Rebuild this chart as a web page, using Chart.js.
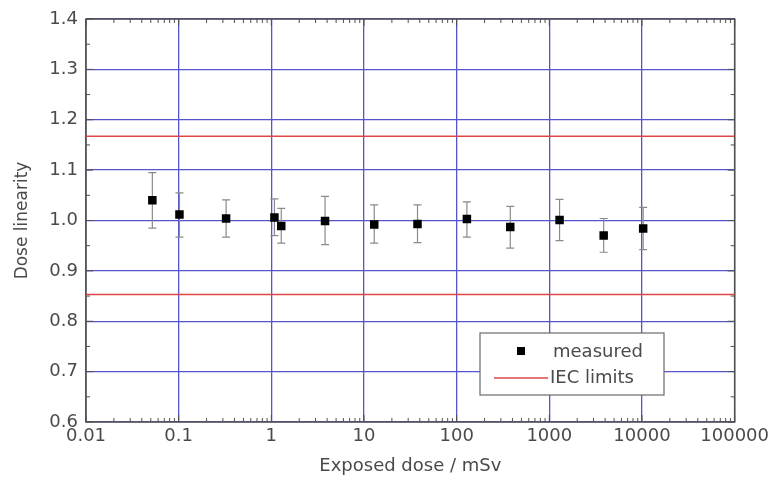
<!DOCTYPE html>
<html>
<head>
<meta charset="utf-8">
<script src="https://cdn.jsdelivr.net/npm/chart.js@4/dist/chart.umd.min.js"></script>
<style>
  html, body { margin: 0; padding: 0; background: #ffffff; }
  #wrap { width: 773px; height: 488px; }
</style>
</head>
<body>
<div id="wrap"><canvas id="c" width="773" height="488"></canvas></div>
<script>
// ---- data ----
const doseValues = [0.052, 0.102, 0.325, 1.08, 1.28, 3.8, 12.9, 37.8, 129, 379, 1290, 3860, 10300];
const linearity  = [1.040, 1.012, 1.004, 1.006, 0.989, 0.999, 0.992, 0.993, 1.003, 0.987, 1.001, 0.970, 0.984];
const errHigh    = [1.095, 1.055, 1.041, 1.043, 1.024, 1.048, 1.031, 1.031, 1.037, 1.028, 1.042, 1.004, 1.026];
const errLow     = [0.985, 0.967, 0.967, 0.970, 0.955, 0.952, 0.955, 0.956, 0.967, 0.945, 0.960, 0.937, 0.942];
const iecLimits  = [1.167, 0.853];
const xRange     = [0.01, 100000];
const xTickValues = [0.01, 0.1, 1, 10, 100, 1000, 10000, 100000];
const xTickLabels = ['0.01', '0.1', '1', '10', '100', '1000', '10000', '100000'];
const yTickValues = [0.6, 0.7, 0.8, 0.9, 1.0, 1.1, 1.2, 1.3, 1.4];
const seriesNames = ['measured', 'IEC limits'];
const axisTitles  = ['Exposed dose / mSv', 'Dose linearity'];

const FONT = 'DejaVu Sans';
const TEXT = '#4a4a4a';
const GRID = 'rgb(84,84,204)';
const RED  = 'rgb(222,70,70)';
const FRAME = '#505050';

const measured = doseValues.map((x, i) => ({ x: x, y: linearity[i] }));
const limitData = iecLimits.map(v => xRange.map(x => ({ x: x, y: v })));

const decorPlugin = {
  id: 'decor',
  beforeDatasetsDraw(chart) {
    const ctx = chart.ctx, a = chart.chartArea;
    const xs = chart.scales.x, ys = chart.scales.y;
    ctx.save();
    // frame
    ctx.strokeStyle = FRAME;
    ctx.lineWidth = 1.5;
    ctx.strokeRect(a.left, a.top, a.right - a.left, a.bottom - a.top);
    // inward ticks
    ctx.lineWidth = 1;
    ctx.beginPath();
    for (let d = 0; d < xTickValues.length; d++) {
      const base = xTickValues[d];
      const px = xs.getPixelForValue(base);
      ctx.moveTo(px, a.bottom); ctx.lineTo(px, a.bottom - 7);
      ctx.moveTo(px, a.top); ctx.lineTo(px, a.top + 7);
      if (d < xTickValues.length - 1) {
        for (let m = 2; m <= 9; m++) {
          const mx = xs.getPixelForValue(base * m);
          ctx.moveTo(mx, a.bottom); ctx.lineTo(mx, a.bottom - 4);
          ctx.moveTo(mx, a.top); ctx.lineTo(mx, a.top + 4);
        }
      }
    }
    for (let i = 0; i < yTickValues.length; i++) {
      const py = ys.getPixelForValue(yTickValues[i]);
      ctx.moveTo(a.left, py); ctx.lineTo(a.left + 7, py);
      ctx.moveTo(a.right, py); ctx.lineTo(a.right - 7, py);
      if (i < yTickValues.length - 1) {
        const my = ys.getPixelForValue((yTickValues[i] + yTickValues[i + 1]) / 2);
        ctx.moveTo(a.left, my); ctx.lineTo(a.left + 4, my);
        ctx.moveTo(a.right, my); ctx.lineTo(a.right - 4, my);
      }
    }
    ctx.stroke();
    // error bars
    ctx.strokeStyle = '#8a8a8a';
    ctx.lineWidth = 1.2;
    ctx.beginPath();
    doseValues.forEach((x, i) => {
      const px = xs.getPixelForValue(x);
      const pt = ys.getPixelForValue(errHigh[i]);
      const pb = ys.getPixelForValue(errLow[i]);
      ctx.moveTo(px, pt); ctx.lineTo(px, pb);
      ctx.moveTo(px - 4, pt); ctx.lineTo(px + 4, pt);
      ctx.moveTo(px - 4, pb); ctx.lineTo(px + 4, pb);
    });
    ctx.stroke();
    ctx.restore();
  },
  afterDraw(chart) {
    const ctx = chart.ctx;
    ctx.save();
    // legend box
    const bx = 480, by = 333, bw = 184, bh = 62;
    ctx.fillStyle = '#ffffff';
    ctx.fillRect(bx, by, bw, bh);
    ctx.strokeStyle = '#6a6a6a';
    ctx.lineWidth = 1.2;
    ctx.strokeRect(bx, by, bw, bh);
    // measured marker
    ctx.fillStyle = '#000000';
    ctx.fillRect(517, 347, 8, 8);
    // red line
    ctx.strokeStyle = RED;
    ctx.lineWidth = 1.5;
    ctx.beginPath();
    ctx.moveTo(494, 378); ctx.lineTo(548, 378);
    ctx.stroke();
    ctx.fillStyle = TEXT;
    ctx.font = '18px "' + FONT + '"';
    ctx.textBaseline = 'middle';
    ctx.textAlign = 'left';
    ctx.fillText(seriesNames[0], 553, 352);
    ctx.fillText(seriesNames[1], 550, 378);
    ctx.restore();
  }
};

new Chart(document.getElementById('c'), {
  type: 'scatter',
  data: {
    datasets: [
      {
        label: seriesNames[1], data: limitData[0], type: 'line', showLine: true,
        borderColor: RED, borderWidth: 1.5, pointRadius: 0, fill: false, order: 2
      },
      {
        label: seriesNames[1] + ' ', data: limitData[1], type: 'line', showLine: true,
        borderColor: RED, borderWidth: 1.5, pointRadius: 0, fill: false, order: 2
      },
      {
        label: seriesNames[0], data: measured, showLine: false,
        pointStyle: 'rect', pointRadius: 6, pointHoverRadius: 6,
        backgroundColor: '#000000', borderColor: '#000000', borderWidth: 0, order: 1
      }
    ]
  },
  options: {
    responsive: false,
    animation: false,
    devicePixelRatio: 1,
    layout: { padding: { left: 0, right: 37, top: 19, bottom: 0 } },
    plugins: { legend: { display: false }, tooltip: { enabled: false } },
    scales: {
      x: {
        type: 'logarithmic',
        min: xRange[0], max: xRange[1],
        afterBuildTicks(scale) { scale.ticks = xTickValues.map(v => ({ value: v, major: true })); },
        afterFit(scale) { scale.height = 66; },
        ticks: {
          autoSkip: false, maxRotation: 0, padding: 4, color: TEXT,
          font: { family: FONT, size: 18 },
          callback(value, index) { return xTickLabels[index]; }
        },
        grid: { color: GRID, lineWidth: 1.3, drawTicks: false },
        border: { display: false },
        title: {
          display: true, text: axisTitles[0], color: TEXT,
          font: { family: FONT, size: 18 }, padding: { top: 0, bottom: 11 }
        }
      },
      y: {
        type: 'linear',
        min: 0.6, max: 1.4,
        afterBuildTicks(scale) { scale.ticks = yTickValues.map(v => ({ value: v })); },
        afterFit(scale) { scale.width = 86; },
        ticks: {
          padding: 8, color: TEXT,
          font: { family: FONT, size: 18 },
          callback(value) { return Number(value).toFixed(1); }
        },
        grid: { color: GRID, lineWidth: 1.3, drawTicks: false },
        border: { display: false },
        title: {
          display: true, text: axisTitles[1], color: TEXT,
          font: { family: FONT, size: 17 }, padding: { top: 12, bottom: 0 }
        }
      }
    }
  },
  plugins: [decorPlugin]
});
</script>
</body>
</html>
